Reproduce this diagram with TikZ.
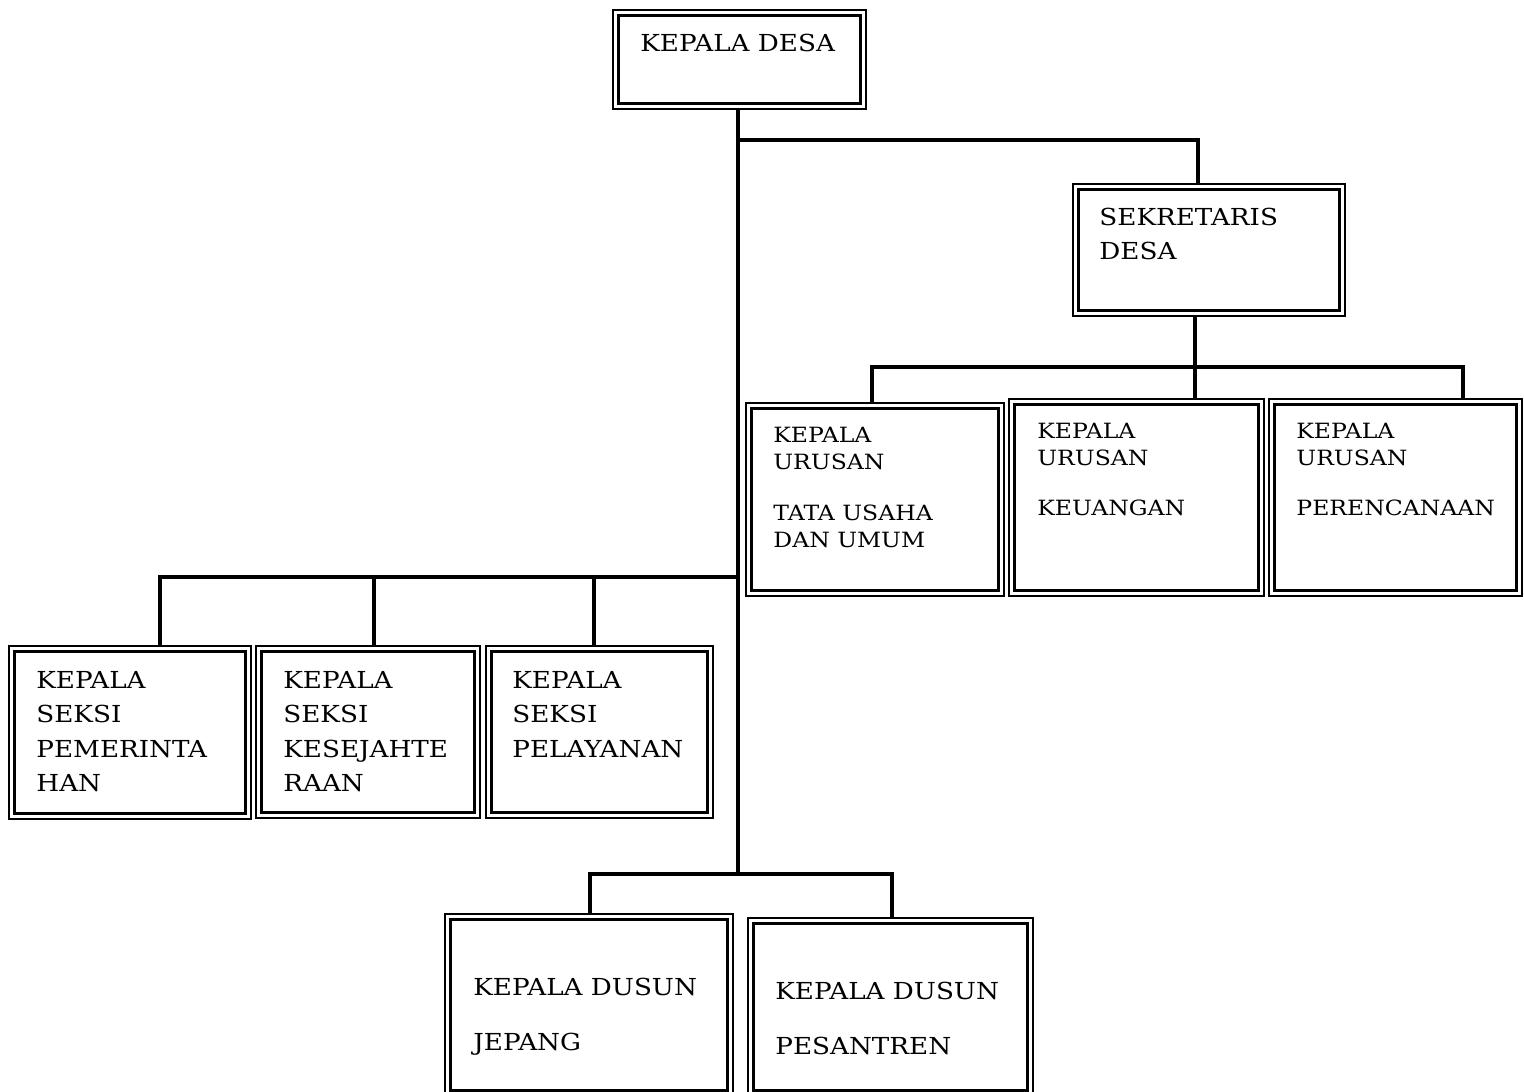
\documentclass[tikz,border=0pt]{standalone}
\usepackage{fontspec}
\newfontfamily\bk[FakeStretch=1.12]{DejaVu Serif}
\newcommand\mybox[5]{%
  \node[obox, minimum width={(#4-#2)*0.5pt}, minimum height={(#5-#3)*0.5pt}] (#1) at (#2,#3) {};
  \draw[ibox] ([shift={(5.5,5.5)}]#1.north west) rectangle ([shift={(-5.5,-5.5)}]#1.south east);}
\begin{document}
\begin{tikzpicture}[x=0.5pt,y=-0.5pt,
  obox/.style={draw, line width=1pt, rectangle, inner sep=0pt, outer sep=0pt, anchor=north west},
  ibox/.style={line width=1.8pt},
  conn/.style={line width=2.3pt, line join=miter},
  txt/.style={anchor=north west, inner sep=0pt, align=left, font=\bk\fontsize{11.7}{17.25}\selectfont},
  stxt/.style={anchor=north west, inner sep=0pt, align=left, font=\bk\fontsize{10.5}{13.5}\selectfont}]
\clip (0,0) rectangle (1524,1091);
\fill[white] (0,0) rectangle (1524,1091);
% boxes
\mybox{kd}{613}{10}{866}{109}
\mybox{sek}{1073}{184}{1345}{316}
\mybox{ua}{746}{403}{1004}{596}
\mybox{ub}{1009}{399}{1264}{596}
\mybox{uc}{1269}{399}{1522}{596}
\mybox{sa}{9}{646}{251}{819}
\mybox{sb}{256}{646}{480}{818}
\mybox{sc}{486}{646}{713}{818}
\mybox{da}{445}{914}{733}{1096}
\mybox{db}{748}{918}{1033}{1096}
% texts
\node[txt] (tkd) at (640,34) {KEPALA DESA};
\node[txt, font=\bk\fontsize{11.7}{17}\selectfont] (tsek) at (1099,208) {SEKRETARIS\\DESA};
\node[stxt] (tua) at (773,427) {KEPALA\\URUSAN\\[12pt]TATA USAHA\\DAN UMUM};
\node[stxt] (tub) at (1037,423) {KEPALA\\URUSAN\\[11.5pt]KEUANGAN};
\node[stxt] (tuc) at (1296,423) {KEPALA\\URUSAN\\[11.5pt]PERENCANAAN};
\node[txt] (tsa) at (36,671) {KEPALA\\SEKSI\\PEMERINTA\\HAN};
\node[txt] (tsb) at (283,671) {KEPALA\\SEKSI\\KESEJAHTE\\RAAN};
\node[txt] (tsc) at (512,671) {KEPALA\\SEKSI\\PELAYANAN};
\node[txt, font=\bk\fontsize{11.7}{27.5}\selectfont] (tda) at (473,978) {KEPALA DUSUN\\JEPANG};
\node[txt, font=\bk\fontsize{11.7}{27.5}\selectfont] (tdb) at (775,982) {KEPALA DUSUN\\PESANTREN};
% junction coordinates
\coordinate (tend) at (738,874);
\coordinate (jtop) at (738,140);
\coordinate (xsek) at (1198,0);
\coordinate (xu) at (1195,367);
\coordinate (ja) at (872,367);
\coordinate (jc) at (1463,367);
\coordinate (js) at (738,577);
\coordinate (xsa) at (160,577);
\coordinate (xsb) at (374,577);
\coordinate (xsc) at (594,577);
\coordinate (xda) at (590,874);
\coordinate (xdb) at (892,874);
% connectors
\draw[conn] (kd.south -| tend) -- (tend);
\draw[conn] (jtop) -| (xsek |- sek.north);
\draw[conn] (xu |- sek.south) -- (xu |- ub.north);
\draw[conn] (ja |- ua.north) -- (ja) -- (jc) -- (jc |- uc.north);
\draw[conn] (js) -- (xsa) -- (xsa |- sa.north);
\draw[conn] (xsb) -- (xsb |- sb.north);
\draw[conn] (xsc) -- (xsc |- sc.north);
\draw[conn] (xda |- da.north) -- (xda) -- (xdb) -- (xdb |- db.north);
\end{tikzpicture}
\end{document}
